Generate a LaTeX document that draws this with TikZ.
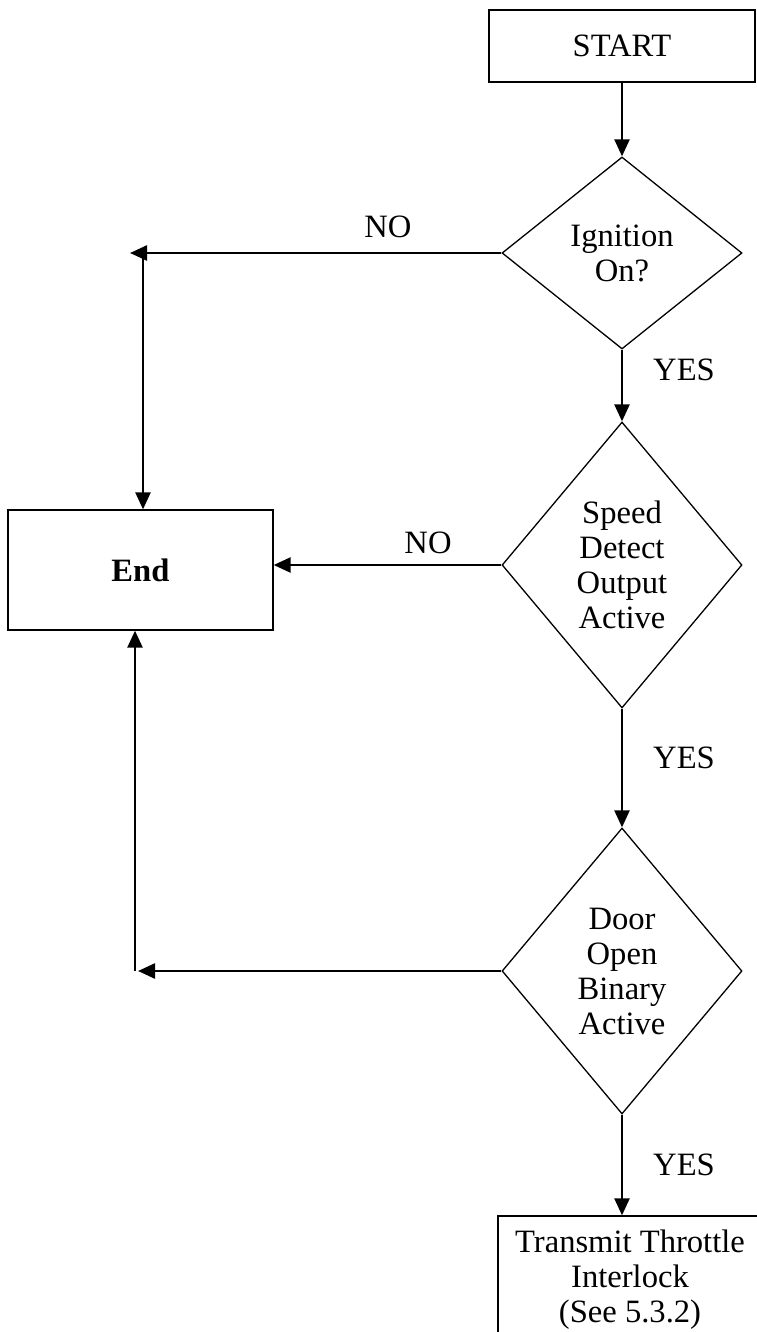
\documentclass[tikz,border=0pt]{standalone}
\usepackage{fontspec}
\setmainfont{Liberation Serif}
\usetikzlibrary{shapes.geometric,arrows.meta}
\begin{document}
\begin{tikzpicture}[x=0.5pt,y=-0.5pt,
  txt/.style={font=\fontsize{16.3}{17.5}\selectfont},
  box/.style={txt,draw,line width=0.65pt,inner sep=0pt,align=center},
  decision/.style={txt,draw,diamond,line width=0.65pt,inner sep=0pt,align=center,minimum width=120pt},
  arr/.style={line width=1.2pt,-{Triangle[length=8.5pt,width=7.5pt]}}]
\useasboundingbox (0,0) rectangle (756,1332);
\node[box,minimum width=133pt,minimum height=36pt] (start) at (622,46) {START};
\node[decision,minimum height=96pt] (ign) at (622,253) {Ignition\\On?};
\node[decision,minimum height=143pt] (speed) at (622,565) {Speed\\Detect\\Output\\Active};
\node[decision,minimum height=143pt] (door) at (622,971) {Door\\Open\\Binary\\Active};
\node[box,minimum width=132.5pt,minimum height=60pt,font=\fontsize{16.3}{17.5}\selectfont\bfseries] (end) at (140.5,570) {End};
\node[box,minimum width=132pt,minimum height=64pt] (tx) at (630,1280) {Transmit Throttle\\Interlock\\(See 5.3.2)};
\node[txt] (no1) at (388,227) {NO};
\node[txt] (no2) at (428,543) {NO};
\foreach \y [count=\i] in {370,758,1165}
  \node[txt] (yes\i) at (684,\y) {YES};
\coordinate (tipA) at (130,253);
\coordinate (cornerA) at (143,253);
\coordinate (tipB) at (138,971);
\coordinate (cornerB) at (135,971);
\draw[arr] (start) -- (ign);
\draw[arr] (ign) -- (speed);
\draw[arr] (speed) -- (door);
\draw[arr] (door.south) -- (door.south |- tx.north);
\draw[arr] (ign.west) -- (tipA);
\draw[arr] (cornerA) -- (cornerA |- end.north);
\draw[arr] (speed.west) -- (speed.west -| end.east);
\draw[arr] (door.west) -- (tipB);
\draw[arr] (cornerB) -- (cornerB |- end.south);
\end{tikzpicture}
\end{document}
